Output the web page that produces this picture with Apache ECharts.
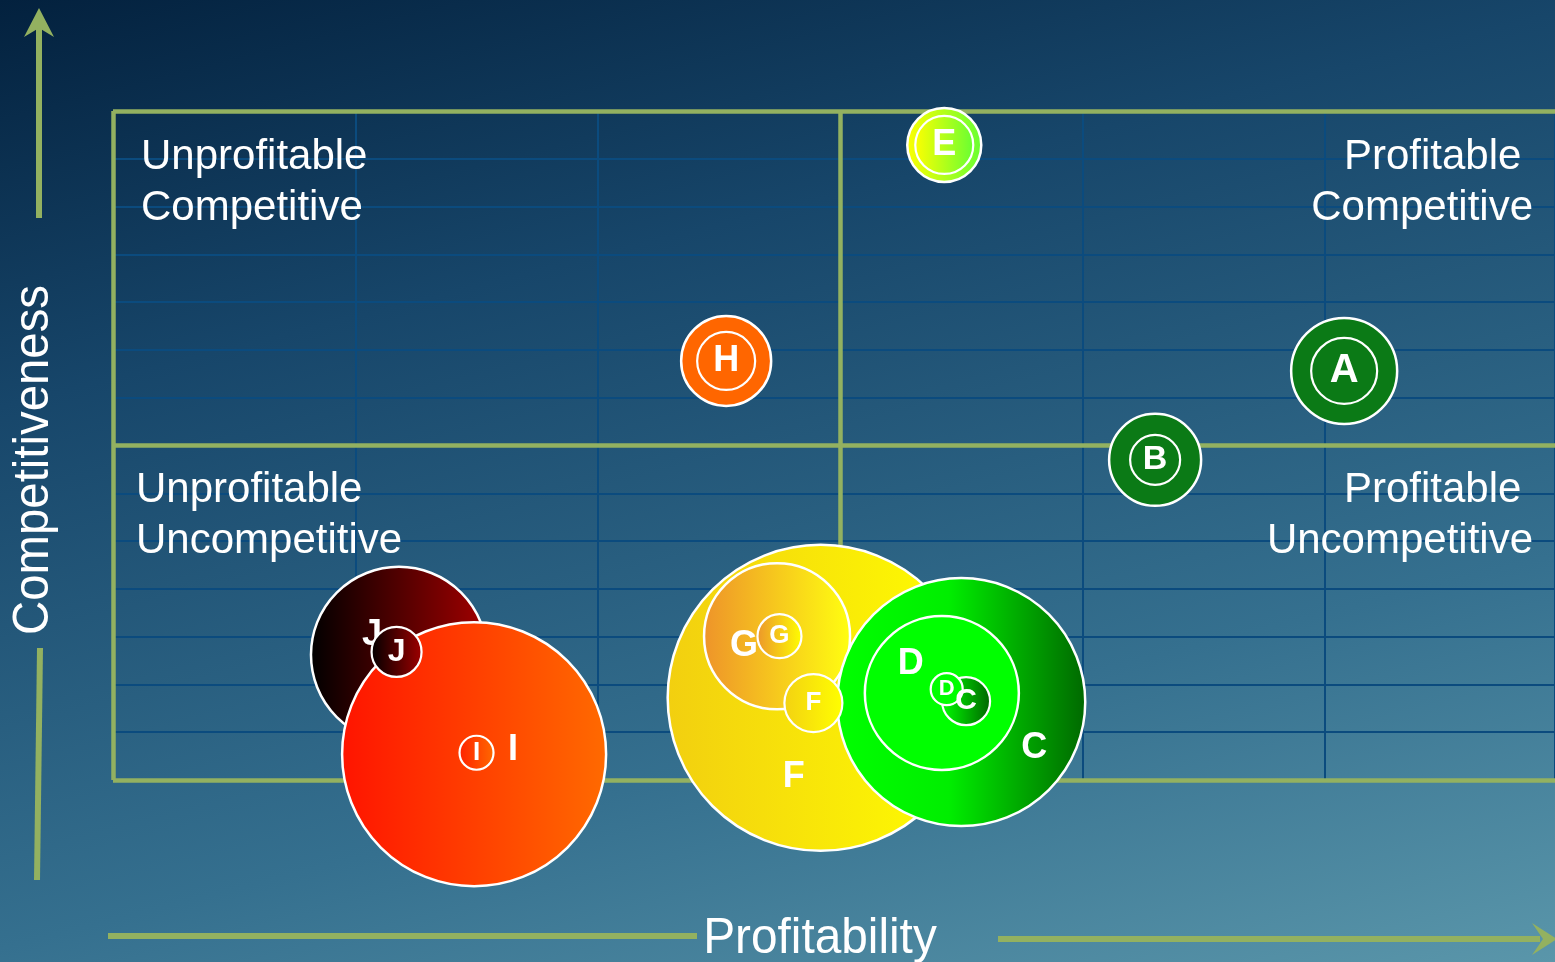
<!DOCTYPE html>
<html>
<head>
<meta charset="utf-8">
<script src="https://cdn.jsdelivr.net/npm/echarts@6/dist/echarts.min.js"></script>
<style>
html,body{margin:0;padding:0;background:#0a2e50;}
#chart{width:1555px;height:962px;}
</style>
</head>
<body>
<div id="chart"></div>
<script>
// ---- data ----
const companies = ['A', 'B', 'C', 'D', 'E', 'F', 'G', 'H', 'I', 'J'];
// large (outer) bubbles: profitability, competitiveness, bubble radius
const profitOuter = [5.08, 4.30, 3.50, 3.42, 3.43, 2.92, 2.74, 2.53, 1.49, 1.18];
const competOuter = [8.56, 6.70, 1.63, 1.82, 13.29, 1.72, 3.01, 8.77, 0.54, 2.62];
const sizeOuter   = [53, 46, 124, 77, 37, 153, 73, 45, 132, 88];
// small (inner) bubbles
const profitInner = [5.08, 4.30, 3.52, 3.44, 3.43, 2.89, 2.75, 2.53, 1.50, 1.17];
const competInner = [8.56, 6.70, 1.65, 1.90, 13.29, 1.61, 3.01, 8.77, 0.57, 2.68];
const sizeInner   = [33, 25, 24, 16, 29, 29, 22, 29, 17, 25];
const xRange = [0, 5.95];
const yRange = [0, 14];
const quadrantLabels = ['Unprofitable\nCompetitive', 'Profitable \nCompetitive', 'Unprofitable\nUncompetitive', 'Profitable \nUncompetitive'];
const xTitle = 'Profitability';
const yTitle = 'Competitiveness';

// ---- styles ----
const GREEN = '#93b160';
const FONT = '"Liberation Sans", Arial, Helvetica, sans-serif';
function grad(stops) {
  return { type: 'linear', x: 0, y: 0, x2: 1, y2: 0,
    colorStops: stops.map((c, i) => (Array.isArray(c) ? { offset: c[0], color: c[1] } : { offset: i / (stops.length - 1), color: c })) };
}
const outerFill = {
  A: '#0b7a16', B: '#0b7a16',
  C: grad([[0, '#00ff00'], [0.45, '#00ee00'], [1, '#006800']]),
  D: '#00ff00',
  E: grad(['#ffff00', '#66ff33']),
  F: grad(['#f2cf10', '#ffff00']),
  G: grad(['#ee932a', '#ffff10']),
  H: '#ff6600',
  I: grad(['#ff1400', '#ff6a00']),
  J: grad(['#000000', '#a30000'])
};
const innerFill = {
  A: '#0b7a16', B: '#0b7a16',
  C: grad(['#00ff00', '#006400']),
  D: '#00ff00',
  E: grad(['#ffff00', '#66ff33']),
  F: grad(['#f3d112', '#ffff00']),
  G: grad(['#ec952c', '#ffff00']),
  H: '#ff6600',
  I: grad(['#ff2000', '#ff6a00']),
  J: grad(['#000000', '#a00000'])
};
// big-label placement (pixel offsets) ; missing = no outer label
const outerLabel = {
  C: [73, 46], D: [-31, -29], F: [-27, 79], G: [-33, 10], I: [39, -4], J: [-27, -20]
};
const innerLabelSize = { A: 40, B: 34, C: 30, D: 22, E: 36, F: 26, G: 26, H: 36, I: 26, J: 32 };
const drawOrder = ['J', 'I', 'F', 'G', 'C', 'D', 'A', 'B', 'E', 'H'];

const outerData = drawOrder.map(n => {
  const i = companies.indexOf(n);
  const off = outerLabel[n];
  return {
    name: n,
    value: [profitOuter[i], competOuter[i], sizeOuter[i]],
    itemStyle: { color: outerFill[n] },
    label: off ? { show: true, offset: off } : { show: false }
  };
});
const innerData = drawOrder.map(n => {
  const i = companies.indexOf(n);
  return {
    name: n,
    value: [profitInner[i], competInner[i], sizeInner[i]],
    itemStyle: { color: innerFill[n] },
    label: { show: true, fontSize: innerLabelSize[n] }
  };
});

const chart = echarts.init(document.getElementById('chart'), null, { renderer: 'canvas' });
const quadText = (text, x, y, align) => ({
  type: 'text', z: 10, x: x, y: y, silent: true,
  style: { text: text, fill: '#ffffff', font: '42px ' + FONT, align: align, verticalAlign: 'top', lineHeight: 51 }
});
const option = {
  animation: false,
  backgroundColor: 'transparent',
  grid: { left: 113, top: 111, right: 0, bottom: 182, containLabel: false },
  xAxis: {
    type: 'value', min: xRange[0], max: xRange[1], interval: 1,
    axisLine: { show: false }, axisTick: { show: false }, axisLabel: { show: false },
    splitLine: { show: true, lineStyle: { color: '#0b4b7e', width: 2 } }
  },
  yAxis: {
    type: 'value', min: yRange[0], max: yRange[1], interval: 1,
    axisLine: { show: false }, axisTick: { show: false }, axisLabel: { show: false },
    splitLine: { show: true, lineStyle: { color: '#0b4b7e', width: 2 } }
  },
  graphic: [
    { type: 'rect', z: -10, silent: true, shape: { x: 0, y: 0, width: 1555, height: 962 },
      style: { fill: { type: 'linear', x: 0, y: 0, x2: 322, y2: 1274, global: true,
        colorStops: [ { offset: 0, color: '#03213e' }, { offset: 0.3, color: '#17466a' },
                      { offset: 0.7, color: '#35708f' }, { offset: 1, color: '#5a96aa' } ] } } },
    quadText(quadrantLabels[0], 141, 132, 'left'),
    quadText(quadrantLabels[1], 1533, 132, 'right'),
    quadText(quadrantLabels[2], 136, 465, 'left'),
    quadText(quadrantLabels[3], 1533, 465, 'right'),
    // vertical axis arrow
    { type: 'line', z: 5, silent: true, shape: { x1: 39, y1: 218, x2: 39, y2: 26 }, style: { stroke: GREEN, lineWidth: 6 } },
    { type: 'polygon', z: 5, silent: true, shape: { points: [[39, 8], [54, 37], [39, 28], [24, 37]] }, style: { fill: GREEN } },
    { type: 'line', z: 5, silent: true, shape: { x1: 40, y1: 648, x2: 37, y2: 880 }, style: { stroke: GREEN, lineWidth: 6 } },
    { type: 'text', z: 5, silent: true, x: 34, y: 460, rotation: Math.PI / 2, scaleX: 0.947,
      style: { text: yTitle, fill: '#ffffff', font: '50px ' + FONT, align: 'center', verticalAlign: 'middle' } },
    // horizontal axis arrow
    { type: 'line', z: 5, silent: true, shape: { x1: 108, y1: 936, x2: 697, y2: 936 }, style: { stroke: GREEN, lineWidth: 6 } },
    { type: 'line', z: 5, silent: true, shape: { x1: 998, y1: 939, x2: 1540, y2: 939 }, style: { stroke: GREEN, lineWidth: 6 } },
    { type: 'polygon', z: 5, silent: true, shape: { points: [[1557, 939], [1532, 923], [1543, 939], [1532, 955]] }, style: { fill: GREEN } },
    { type: 'text', z: 5, silent: true, x: 820, y: 939, scaleX: 0.955,
      style: { text: xTitle, fill: '#ffffff', font: '50px ' + FONT, align: 'center', verticalAlign: 'middle' } }
  ],
  series: [
    {
      name: 'frame', type: 'scatter', data: [], z: 1, silent: true,
      markLine: {
        silent: true, z: 1, symbol: ['none', 'none'], label: { show: false }, animation: false,
        lineStyle: { color: GREEN, width: 4.5, type: 'solid' },
        emphasis: { disabled: true },
        data: [ { xAxis: 0 }, { xAxis: 3 }, { yAxis: 0 }, { yAxis: 7 }, { yAxis: 14 } ]
      }
    },
    {
      name: 'outer', type: 'scatter', z: 2, clip: false, silent: true,
      symbol: 'circle', symbolSize: v => v[2] * 2,
      itemStyle: { borderColor: '#ffffff', borderWidth: 2.5, opacity: 1 },
      label: { show: true, position: 'inside', formatter: '{b}', color: '#ffffff',
        fontFamily: FONT, fontWeight: 'bold', fontSize: 36 },
      data: outerData
    },
    {
      name: 'inner', type: 'scatter', z: 3, clip: false, silent: true,
      symbol: 'circle', symbolSize: v => v[2] * 2,
      itemStyle: { borderColor: '#ffffff', borderWidth: 2.2, opacity: 1 },
      label: { show: true, position: 'inside', formatter: '{b}', color: '#ffffff',
        fontFamily: FONT, fontWeight: 'bold', fontSize: 26 },
      data: innerData
    }
  ]
};
chart.setOption(option);
</script>
</body>
</html>
